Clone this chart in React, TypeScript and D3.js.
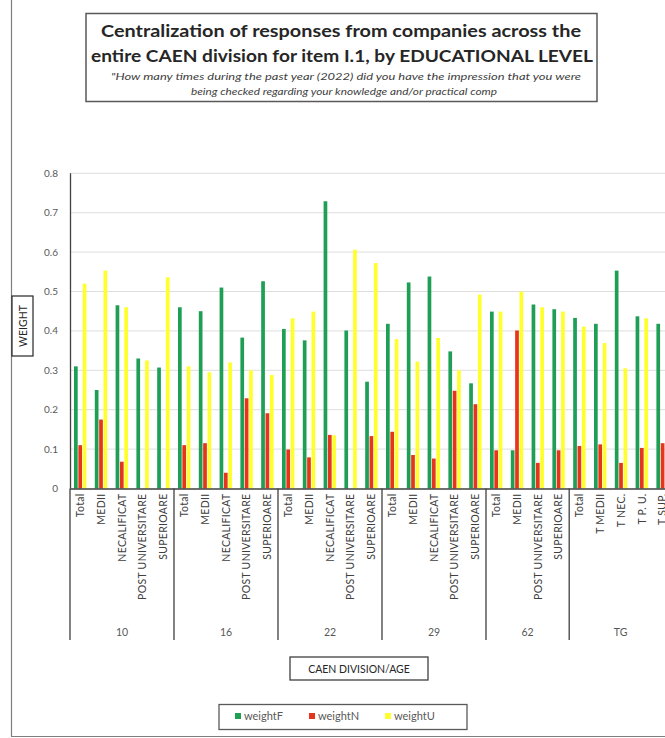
import React from "react";
import * as d3 from "d3";

// CAEN divisions and the educational levels reported in each
const groups = ["10", "16", "22", "29", "62", "TG"];
const groupLevels: string[][] = [
  ["Total", "MEDII", "NECALIFICAT", "POST UNIVERSITARE", "SUPERIOARE"],
  ["Total", "MEDII", "NECALIFICAT", "POST UNIVERSITARE", "SUPERIOARE"],
  ["Total", "MEDII", "NECALIFICAT", "POST UNIVERSITARE", "SUPERIOARE"],
  ["Total", "MEDII", "NECALIFICAT", "POST UNIVERSITARE", "SUPERIOARE"],
  ["Total", "MEDII", "POST UNIVERSITARE", "SUPERIOARE"],
  ["Total", "T MEDII", "T NEC.", "T P. U.", "T SUP."],
];

// weights per category, in the same order as the levels above
const weightF = [
  0.31, 0.25, 0.465, 0.33, 0.307,
  0.46, 0.45, 0.51, 0.383, 0.526,
  0.405, 0.376, 0.729, 0.401, 0.271,
  0.418, 0.523, 0.538, 0.348, 0.267,
  0.449, 0.097, 0.467, 0.455,
  0.433, 0.418, 0.553, 0.437, 0.418,
];
const weightN = [
  0.11, 0.175, 0.068, 0, 0,
  0.11, 0.115, 0.04, 0.229, 0.191,
  0.099, 0.079, 0.136, 0, 0.133,
  0.144, 0.085, 0.076, 0.248, 0.214,
  0.097, 0.401, 0.065, 0.097,
  0.108, 0.112, 0.065, 0.103, 0.115,
];
const weightU = [
  0.52, 0.553, 0.46, 0.325, 0.536,
  0.31, 0.295, 0.32, 0.3, 0.288,
  0.432, 0.449, 0.135, 0.606, 0.572,
  0.379, 0.322, 0.382, 0.3, 0.492,
  0.449, 0.5, 0.46, 0.449,
  0.411, 0.369, 0.305, 0.432, 0.45,
];

const yTicks = [0, 0.1, 0.2, 0.3, 0.4, 0.5, 0.6, 0.7, 0.8];
const seriesNames = ["weightF", "weightN", "weightU"];
const seriesColors = ["#1f9e55", "#e5361d", "#ffff2e"];

const W = 665;
const H = 738;
const FONT = "Lato, 'Open Sans', 'Liberation Sans', sans-serif";

export default function App() {
  const cats: { group: number; label: string; idx: number }[] = [];
  groupLevels.forEach((levels, g) =>
    levels.forEach((label) => cats.push({ group: g, label, idx: cats.length }))
  );
  const series = [weightF, weightN, weightU];

  const step = 20.8;
  const x0 = 70;
  const x = d3
    .scaleBand<number>()
    .domain(cats.map((c) => c.idx))
    .range([x0, x0 + step * cats.length])
    .paddingInner(0)
    .paddingOuter(0);
  const inner = d3
    .scaleBand<string>()
    .domain(seriesNames)
    .range([-6.4, 6.0])
    .paddingInner(0.15);
  const y = d3.scaleLinear().domain([0, 0.8]).range([488.5, 173.3]);

  const axisBottom = y(0);
  const sepBottom = 640;

  // group boundaries
  const bounds: number[] = [];
  let acc = 0;
  bounds.push(x(0)!);
  groupLevels.forEach((lv) => {
    acc += lv.length;
    bounds.push(acc < cats.length ? x(acc)! : x0 + step * cats.length);
  });

  const legendItems = [
    { x: 235, name: seriesNames[0], color: seriesColors[0] },
    { x: 309, name: seriesNames[1], color: seriesColors[1] },
    { x: 385, name: seriesNames[2], color: seriesColors[2] },
  ];

  return (
    <div style={{ position: "absolute", left: 0, top: 0 }}>
      <svg width={W} height={H} style={{ display: "block", background: "#fff" }}>
        {/* outer chart frame */}
        <line x1={11.5} y1={0} x2={11.5} y2={736.5} stroke="#7f7f7f" strokeWidth={1.2} />
        <line x1={11} y1={736.5} x2={W} y2={736.5} stroke="#7f7f7f" strokeWidth={1.2} />

        {/* title box */}
        <rect x={86} y={13.5} width={511} height={88} fill="#fff" stroke="#595959" strokeWidth={1.5} />
        <text x={341} y={37} textAnchor="middle" fontFamily={FONT} fontWeight={700} fontSize={17}
          fill="#262626" textLength={480} lengthAdjust="spacingAndGlyphs">
          Centralization of responses from companies across the
        </text>
        <text x={342} y={62} textAnchor="middle" fontFamily={FONT} fontWeight={700} fontSize={17}
          fill="#262626" textLength={502} lengthAdjust="spacingAndGlyphs">
          entire CAEN division for item I.1, by EDUCATIONAL LEVEL
        </text>
        <text x={346} y={80} textAnchor="middle" fontFamily={FONT} fontStyle="italic" fontSize={10}
          fill="#404040" textLength={470} lengthAdjust="spacingAndGlyphs">
          "How many times during the past year (2022) did you have the impression that you were
        </text>
        <text x={344} y={95} textAnchor="middle" fontFamily={FONT} fontStyle="italic" fontSize={10}
          fill="#404040" textLength={306} lengthAdjust="spacingAndGlyphs">
          being checked regarding your knowledge and/or practical comp
        </text>

        {/* gridlines */}
        {yTicks.slice(1).map((t) => (
          <line key={t} x1={x0} x2={W} y1={y(t)} y2={y(t)} stroke="#dedede" strokeWidth={1} />
        ))}

        {/* y tick labels */}
        {yTicks.map((t) => (
          <text key={t} x={58} y={y(t) + 3.5} textAnchor="end" fontFamily={FONT} fontSize={10}
            fill="#595959">
            {t === 0 ? "0" : d3.format(".1f")(t)}
          </text>
        ))}

        {/* y axis title */}
        <rect x={12} y={296} width={21} height={60} fill="#fff" stroke="#262626" strokeWidth={1.2} />
        <text transform={`translate(26.5,326) rotate(-90)`} textAnchor="middle" fontFamily={FONT}
          fontSize={10.5} fill="#262626">
          WEIGHT
        </text>

        {/* bars */}
        {cats.map((c) => {
          const cx = x(c.idx)! + x.bandwidth() / 2;
          return series.map((s, si) => {
            const v = s[c.idx];
            if (!v) return null;
            return (
              <rect key={`${c.idx}-${si}`} x={cx + inner(seriesNames[si])!} y={y(v)}
                width={inner.bandwidth()} height={axisBottom - y(v)} fill={seriesColors[si]} />
            );
          });
        })}

        {/* axes */}
        <line x1={x0 + 0.5} x2={x0 + 0.5} y1={y(0.8)} y2={axisBottom} stroke="#404040" strokeWidth={1.3} />
        <line x1={x0} x2={W} y1={axisBottom + 0.5} y2={axisBottom + 0.5} stroke="#404040" strokeWidth={1.3} />
        {bounds.map((b, i) => (
          <line key={i} x1={b} x2={b} y1={axisBottom} y2={sepBottom} stroke="#404040" strokeWidth={1.3} />
        ))}

        {/* category labels */}
        {cats.map((c) => {
          const cx = x(c.idx)! + x.bandwidth() / 2;
          return (
            <text key={c.idx} transform={`translate(${cx + 3.5},${axisBottom + 5}) rotate(-90)`}
              textAnchor="end" fontFamily={FONT} fontSize={10.5} letterSpacing={0.3} fill="#404040">
              {c.label}
            </text>
          );
        })}

        {/* group labels */}
        {groups.map((g, i) => (
          <text key={g} x={(bounds[i] + Math.min(bounds[i + 1], 672)) / 2} y={636}
            textAnchor="middle" fontFamily={FONT} fontSize={10.5} fill="#595959">
            {g}
          </text>
        ))}

        {/* x axis title */}
        <rect x={290} y={657} width={138} height={23} fill="#fff" stroke="#404040" strokeWidth={1.3} />
        <text x={359} y={672.5} textAnchor="middle" fontFamily={FONT} fontSize={10.5} fill="#262626">
          CAEN DIVISION/AGE
        </text>

        {/* legend */}
        <rect x={219} y={704.5} width={248} height={25} fill="#fff" stroke="#595959" strokeWidth={1.3} />
        {legendItems.map((it) => (
          <g key={it.name}>
            <rect x={it.x} y={713} width={6} height={6} fill={it.color} />
            <text x={it.x + 9} y={720} fontFamily={FONT} fontSize={11} fill="#595959">
              {it.name}
            </text>
          </g>
        ))}
      </svg>
    </div>
  );
}
